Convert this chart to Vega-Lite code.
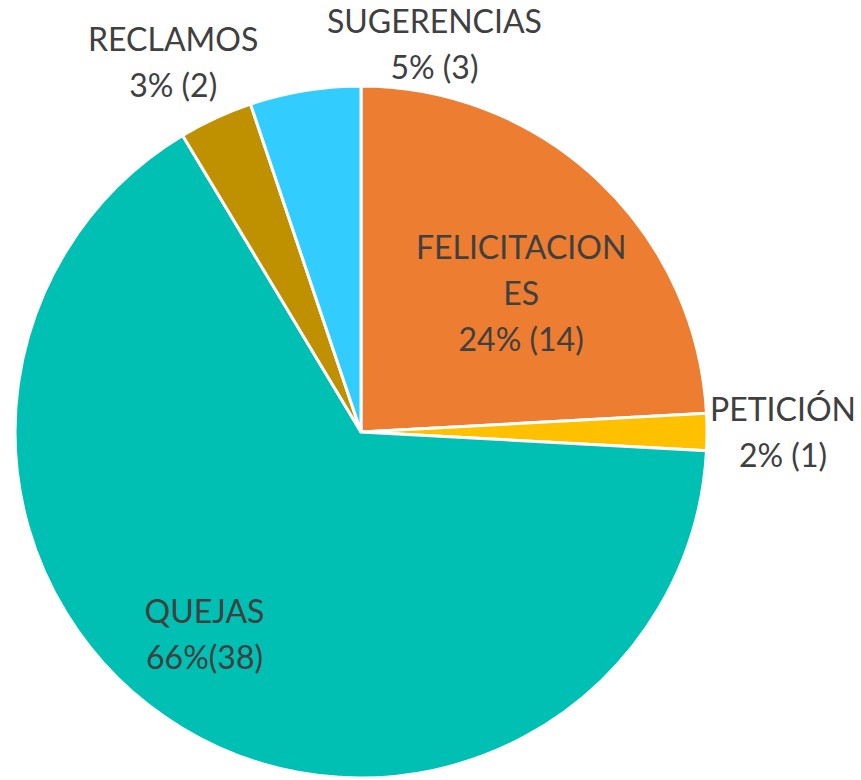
{
  "$schema": "https://vega.github.io/schema/vega-lite/v6.json",
  "width": 692,
  "height": 692,
  "autosize": "none",
  "padding": {"left": 15, "top": 86, "right": 154, "bottom": 2},
  "background": "white",
  "config": {"view": {"stroke": null}},
  "data": {
    "values": [
      {"cat": "FELICITACIONES", "value": 14, "ord": 1, "label": ["FELICITACION", "ES", "24% (14)"]},
      {"cat": "PETICIÓN", "value": 1, "ord": 2, "label": ["PETICIÓN", "2% (1)"]},
      {"cat": "QUEJAS", "value": 38, "ord": 3, "label": ["QUEJAS", "66%(38)"]},
      {"cat": "RECLAMOS", "value": 2, "ord": 4, "label": ["RECLAMOS", "3% (2)"]},
      {"cat": "SUGERENCIAS", "value": 3, "ord": 5, "label": ["SUGERENCIAS", "5% (3)"]}
    ]
  },
  "encoding": {
    "theta": {"field": "value", "type": "quantitative", "stack": true},
    "order": {"field": "ord", "type": "quantitative"}
  },
  "layer": [
    {
      "mark": {"type": "arc", "stroke": "white", "strokeWidth": 3, "outerRadius": 346},
      "encoding": {
        "color": {
          "field": "cat", "type": "nominal", "legend": null,
          "scale": {
            "domain": ["FELICITACIONES", "PETICIÓN", "QUEJAS", "RECLAMOS", "SUGERENCIAS"],
            "range": ["#ED7D31", "#FFC000", "#00BFB3", "#BF9000", "#33CCFF"]
          }
        }
      }
    },
    {
      "mark": {"type": "text", "radius": 211, "dx": 15, "dy": -30, "font": "Lato", "fontSize": 32, "lineHeight": 46, "color": "#404040", "align": "center", "baseline": "middle"},
      "encoding": {"text": {"condition": {"test": "datum.cat === 'FELICITACIONES'", "field": "label"}, "value": ""}}
    },
    {
      "mark": {"type": "text", "radius": 422, "dx": 0, "dy": -21, "font": "Lato", "fontSize": 32, "lineHeight": 46, "color": "#404040", "align": "center", "baseline": "middle"},
      "encoding": {"text": {"condition": {"test": "datum.cat === 'PETICIÓN'", "field": "label"}, "value": ""}}
    },
    {
      "mark": {"type": "text", "radius": 257, "dx": -24, "dy": -39, "font": "Lato", "fontSize": 32, "lineHeight": 46, "color": "#404040", "align": "center", "baseline": "middle"},
      "encoding": {"text": {"condition": {"test": "datum.cat === 'QUEJAS'", "field": "label"}, "value": ""}}
    },
    {
      "mark": {"type": "text", "radius": 414, "dx": -14, "dy": -15, "font": "Lato", "fontSize": 32, "lineHeight": 46, "color": "#404040", "align": "center", "baseline": "middle"},
      "encoding": {"text": {"condition": {"test": "datum.cat === 'RECLAMOS'", "field": "label"}, "value": ""}}
    },
    {
      "mark": {"type": "text", "radius": 393, "dx": 137, "dy": -21, "font": "Lato", "fontSize": 32, "lineHeight": 46, "color": "#404040", "align": "center", "baseline": "middle"},
      "encoding": {"text": {"condition": {"test": "datum.cat === 'SUGERENCIAS'", "field": "label"}, "value": ""}}
    }
  ]
}
